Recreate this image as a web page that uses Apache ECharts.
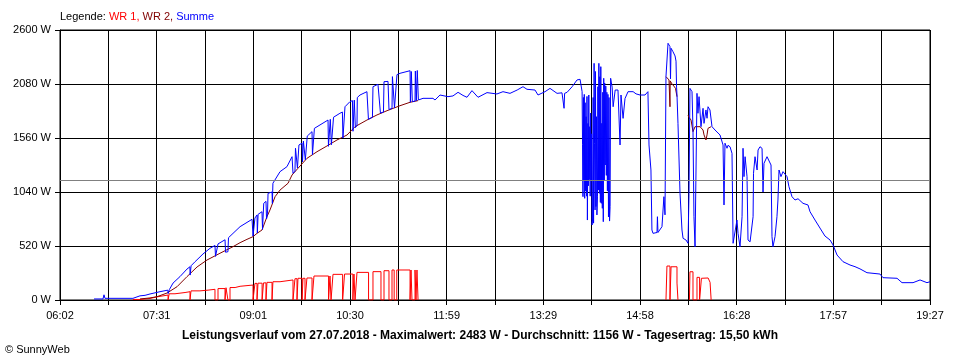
<!DOCTYPE html>
<html>
<head>
<meta charset="utf-8">
<script src="https://cdn.jsdelivr.net/npm/echarts@6/dist/echarts.min.js"></script>
<style>
html,body{margin:0;padding:0;background:#fff;}
#chart{width:960px;height:360px;}
</style>
</head>
<body>
<div id="chart"></div>
<script>
// x tick labels (every second grid line)
const tickLabels = ['06:02','07:31','09:01','10:30','11:59','13:29','14:58','16:28','17:57','19:27'];
const dayStart = 362;   // 06:02 in minutes
const dayEnd = 1167;    // 19:27 in minutes
const yTicks = [0, 520, 1040, 1560, 2080, 2600];
const averageW = 1156;

// [minute of day, W]
const wr1 = [[429.5,5],[436,15],[445.3,30],[451.8,48],[462,0],[463,60],[468.4,72],[477.7,80],[482.3,0],[483.2,88],[491.5,95],[499,103],[505.4,0],[508.2,110],[514.7,0],[515.6,118],[517.4,0],[519.3,120],[524,132],[528.6,144],[540.6,0],[542.4,160],[544.3,0],[545.2,162],[549,0],[550.3,165],[552.6,0],[553.5,170],[558.2,0],[559,176],[565.6,193],[577.6,0],[579.4,205],[581.3,0],[582.2,209],[586,0],[586.8,209],[588.7,0],[590.5,212],[595.2,0],[597,231],[610.5,0],[611.8,231],[612.8,0],[614.6,247],[623.5,0],[625.3,250],[633,0],[634,250],[635,0],[636.8,266],[647.5,0],[651.6,273],[659,0],[661.8,282],[666.4,0],[669.2,289],[671.2,0],[673.6,289],[685.9,0],[686.8,289],[687.7,0],[690.5,289],[691.4,0],[692.3,289],[693.3,0],[693.8,null],[922.7,0],[923.6,327],[926.4,0],[927.4,320],[932.9,163],[933.8,0],[934.3,null],[944.4,0],[944.9,272],[947.7,0],[951.4,218],[953.8,0],[955.5,209],[957,212],[961.7,200],[963.5,170],[964.5,0]];

const wr2 = [[436,10],[445.3,20],[451.8,32],[461,67],[470.3,128],[479.5,225],[488.8,318],[498,385],[510,450],[522,513],[528.6,552],[535,584],[540.6,610],[544.3,642],[548.9,674],[553.5,802],[556.3,867],[561,995],[565.6,1059],[573,1124],[576.7,1204],[582.2,1268],[590.5,1364],[599.8,1428],[609,1483],[618.3,1541],[627.6,1589],[635,1669],[646,1733],[655.3,1782],[664.6,1823],[676.6,1871],[685.9,1904],[693.3,1920],[800,null],[922.7,2151],[923.6,2135],[925.5,2119],[926.2,2119],[926.4,1861],[926.6,2110],[928.3,2080],[930,2060],[931.5,2038],[932.9,1958],[933.3,1958],[938,null],[943.1,1780],[944,1759],[945.9,1733],[947.2,1733],[947.7,1621],[949.6,1669],[954.2,1669],[957,1637],[957.9,1590],[959.7,1541],[960.7,1590],[961.6,1653],[963.4,1669],[964.5,1669]];

const summe = [[393.5,10],[401.8,10],[402.7,50],[403.6,16],[429.5,16],[436,40],[440.7,45],[445.3,58],[454.5,80],[461.8,95],[462.1,62],[462.9,62],[463.2,100],[466.6,163],[473,225],[479.5,298],[482.2,320],[482.4,240],[483.1,240],[483.3,330],[487,369],[494.3,443],[500.8,498],[505.4,525],[505.9,420],[507.7,425],[508.2,540],[514.7,580],[515.2,460],[517.4,465],[517.9,600],[528.6,706],[539.7,777],[540.6,615],[542,620],[542.4,790],[544.3,819],[544.6,645],[545,648],[545.3,825],[548.9,850],[549.4,680],[550,690],[550.5,931],[552.6,950],[553.1,780],[554,830],[554.5,1027],[558.2,1040],[558.5,930],[559,1124],[565.6,1236],[572,1284],[576.7,1380],[577.6,1220],[579.4,1240],[579.9,1461],[581.3,1470],[581.7,1270],[582.6,1280],[583.1,1493],[586,1510],[586.4,1330],[586.8,1335],[587.2,1530],[588.7,1545],[589,1350],[590.4,1360],[590.8,1579],[595.2,1621],[595.6,1400],[597,1410],[597.4,1653],[610,1733],[610.4,1480],[611.8,1490],[612.1,1740],[612.8,1740],[613.1,1495],[614.6,1505],[615.1,1760],[621,1798],[623.3,1810],[623.8,1560],[625.3,1575],[625.7,1861],[630.3,1910],[632.6,1920],[633.1,1625],[634,1630],[634.3,1925],[635,1925],[635.3,1660],[636.8,1680],[637.1,1950],[639.6,1974],[646,2006],[647,2010],[647.4,1740],[651.1,1760],[651.6,2054],[656.2,2077],[658,2080],[658.5,1800],[661.3,1810],[661.8,2102],[665.5,2105],[666.4,1835],[669.2,1845],[669.6,2151],[671,2160],[671.5,1850],[673.3,1855],[673.8,2170],[676.6,2183],[685.9,2208],[686.2,1904],[686.8,1905],[687.1,2200],[687.7,2200],[688,1910],[690.5,1915],[690.8,2205],[691.4,2205],[691.7,1918],[692.3,1918],[692.6,2210],[693.3,2210],[693.6,1926],[697.9,1942],[707.1,1942],[709,1926],[713.6,1974],[721,1958],[725.6,1965],[730.3,2000],[734.9,1970],[738.6,1952],[743.2,2016],[748.8,1952],[757.1,1997],[766.3,1984],[771.9,2006],[778.4,1990],[785,2022],[790.4,2054],[794.1,2029],[801.5,2022],[804.3,1974],[810.8,2006],[815.4,2038],[821.9,1990],[826.5,1995],[828,1985],[828.4,1846],[828.9,1990],[831.2,2000],[835.9,2054],[840.4,2119],[843.2,2125],[845.1,2006],[845.5,1500],[845.9,995],[846.3,1950],[846.7,1150],[847.1,1980],[847.5,979],[847.9,1900],[848.3,1050],[848.8,1765],[849.2,1000],[849.6,1960],[850,770],[850.5,1700],[850.9,1100],[851.3,1974],[851.7,1160],[852.2,1669],[852.6,1000],[853,1800],[853.5,1156],[853.9,1600],[854.3,722],[854.8,780],[855.3,1950],[855.7,740],[856.2,2279],[856.6,1509],[857.1,867],[857.5,2200],[857.9,900],[858.4,1765],[858.8,819],[859.3,1000],[859.7,2054],[860.2,1059],[860.6,2279],[861.1,1027],[861.5,2150],[862,940],[862.4,2247],[862.9,931],[863.3,1701],[863.8,883],[864.2,2000],[864.7,754],[865.1,2135],[865.6,1150],[866,2090],[866.5,1300],[867,2060],[867.5,1200],[868,2000],[868.5,1050],[869,1980],[869.5,800],[870,1950],[870.5,760],[871,900],[871.5,2135],[872.2,2090],[872.9,2050],[873.8,1861],[875.7,2022],[878.3,2022],[880.2,1493],[881.1,1974],[883,1749],[884.8,1940],[887.6,2006],[892.3,2006],[895,1985],[898.7,1974],[903.3,1974],[906,2006],[907,1493],[908.8,1252],[909.7,674],[910.7,642],[914.4,650],[914.8,802],[915.3,650],[919,706],[920.8,995],[921.8,820],[922.7,2151],[923.6,2151],[924.6,2472],[926.4,2440],[926.9,2130],[927.4,2424],[929.2,2391],[931.1,2350],[932,2300],[932.5,2050],[932.9,1974],[933.8,1701],[935.7,1027],[937.5,674],[938.5,594],[941.2,578],[943.1,546],[944,1027],[944.9,2038],[946.8,2006],[947.7,1637],[948.6,802],[949.6,513],[950.5,530],[951.4,1990],[952.3,1798],[953.3,1958],[955.1,1669],[957,1846],[957.9,1701],[959.7,1830],[960.7,1750],[961.6,1861],[963.4,1830],[965.3,1669],[968.1,1637],[972.7,1589],[975.5,1493],[976.4,915],[977.3,1510],[979.2,1461],[980.1,1490],[982,1475],[983.8,1412],[984.8,546],[986.6,530],[988.4,770],[989.4,640],[991.2,513],[993.1,802],[994,1461],[994.9,1188],[995.9,1380],[997.7,1188],[998.6,578],[1000.5,560],[1003.3,802],[1003.7,1220],[1005.1,1380],[1007,1252],[1007.9,1444],[1009.7,1476],[1011.6,1460],[1012.5,1040],[1013.4,1316],[1016.2,1380],[1018,1370],[1019.9,1300],[1020.8,610],[1021.7,513],[1023.6,610],[1025.4,802],[1026.3,963],[1027.3,1252],[1029.1,1188],[1031,1236],[1032.8,1220],[1034.7,1188],[1036.5,1091],[1039.3,995],[1042.1,963],[1044.9,975],[1049.5,931],[1054.1,915],[1056,850],[1060.6,770],[1065.2,693],[1069.8,616],[1074.5,578],[1077.3,530],[1081,433],[1086.5,369],[1093,337],[1097.6,321],[1102.2,300],[1108.7,263],[1120.7,250],[1123.5,215],[1136.5,209],[1141.1,167],[1151.3,167],[1157.8,193],[1164.2,167],[1167,176]];

const FONT = '"Liberation Sans", Arial, sans-serif';
const GRID_STEPS = 18;
const STEP = (dayEnd - dayStart) / GRID_STEPS;
const toX = d => [(d[0] - dayStart) / STEP, d[1]];

const chart = echarts.init(document.getElementById('chart'), null, {renderer: 'canvas'});
const lineSeries = (name, data, color, extra) => Object.assign({
  name, type: 'line', data: data.map(toX), showSymbol: false, symbol: 'none',
  sampling: null, smooth: false, connectNulls: false, animation: false,
  lineStyle: {color, width: 1}, itemStyle: {color}, emphasis: {disabled: true}
}, extra || {});

chart.setOption({
  animation: false,
  backgroundColor: '#fff',
  textStyle: {fontFamily: FONT},
  title: [
    {
      text: '{k|Legende: }{r|WR 1, }{d|WR 2, }{b|Summe}',
      left: 60, top: 11, padding: 0,
      textStyle: {
        fontSize: 11, fontWeight: 'normal',
        rich: {
          k: {color: '#000', fontSize: 11, fontFamily: FONT},
          r: {color: '#ff0000', fontSize: 11, fontFamily: FONT},
          d: {color: '#800000', fontSize: 11, fontFamily: FONT},
          b: {color: '#0000ff', fontSize: 11, fontFamily: FONT}
        }
      }
    },
    {
      text: 'Leistungsverlauf vom 27.07.2018 - Maximalwert: 2483 W - Durchschnitt: 1156 W - Tagesertrag: 15,50 kWh',
      left: 'center', top: 330, padding: 0,
      textStyle: {fontSize: 12, fontWeight: 'bold', color: '#000', fontFamily: FONT}
    },
    {
      text: '\u00A9 SunnyWeb',
      left: 5, top: 344, padding: 0,
      textStyle: {fontSize: 11, fontWeight: 'normal', color: '#000', fontFamily: FONT}
    }
  ],
  grid: {left: 60, right: 30, top: 30, bottom: 60, show: true, borderColor: '#000', borderWidth: 1, containLabel: false},
  xAxis: {
    type: 'value', min: 0, max: GRID_STEPS, interval: 1,
    axisLine: {show: true, lineStyle: {color: '#000', width: 1}},
    axisTick: {show: true, length: 5, lineStyle: {color: '#000'}},
    splitLine: {show: true, lineStyle: {color: '#000', width: 1}},
    axisLabel: {
      color: '#000', fontSize: 11, fontFamily: FONT, margin: 10,
      showMinLabel: true, showMaxLabel: true,
      formatter: v => { const i = Math.round(v); return i % 2 === 0 ? tickLabels[i / 2] : ''; }
    }
  },
  yAxis: {
    type: 'value', min: yTicks[0], max: yTicks[yTicks.length - 1], interval: yTicks[1] - yTicks[0],
    axisLine: {show: true, lineStyle: {color: '#000', width: 1}},
    axisTick: {show: true, length: 5, lineStyle: {color: '#000'}},
    splitLine: {show: true, lineStyle: {color: '#000', width: 1}},
    axisLabel: {color: '#000', fontSize: 11, fontFamily: FONT, margin: 9, formatter: v => String(Math.round(v)) + ' W'}
  },
  series: [
    lineSeries('WR 1', wr1, '#ff0000', {step: 'end'}),
    lineSeries('WR 2', wr2, '#800000'),
    lineSeries('Summe', summe, '#0000ff', {
      markLine: {
        silent: true, symbol: 'none', animation: false,
        label: {show: false},
        lineStyle: {color: '#808080', width: 1, type: 'solid'},
        data: [{yAxis: averageW}]
      }
    })
  ]
});
</script>
</body>
</html>
